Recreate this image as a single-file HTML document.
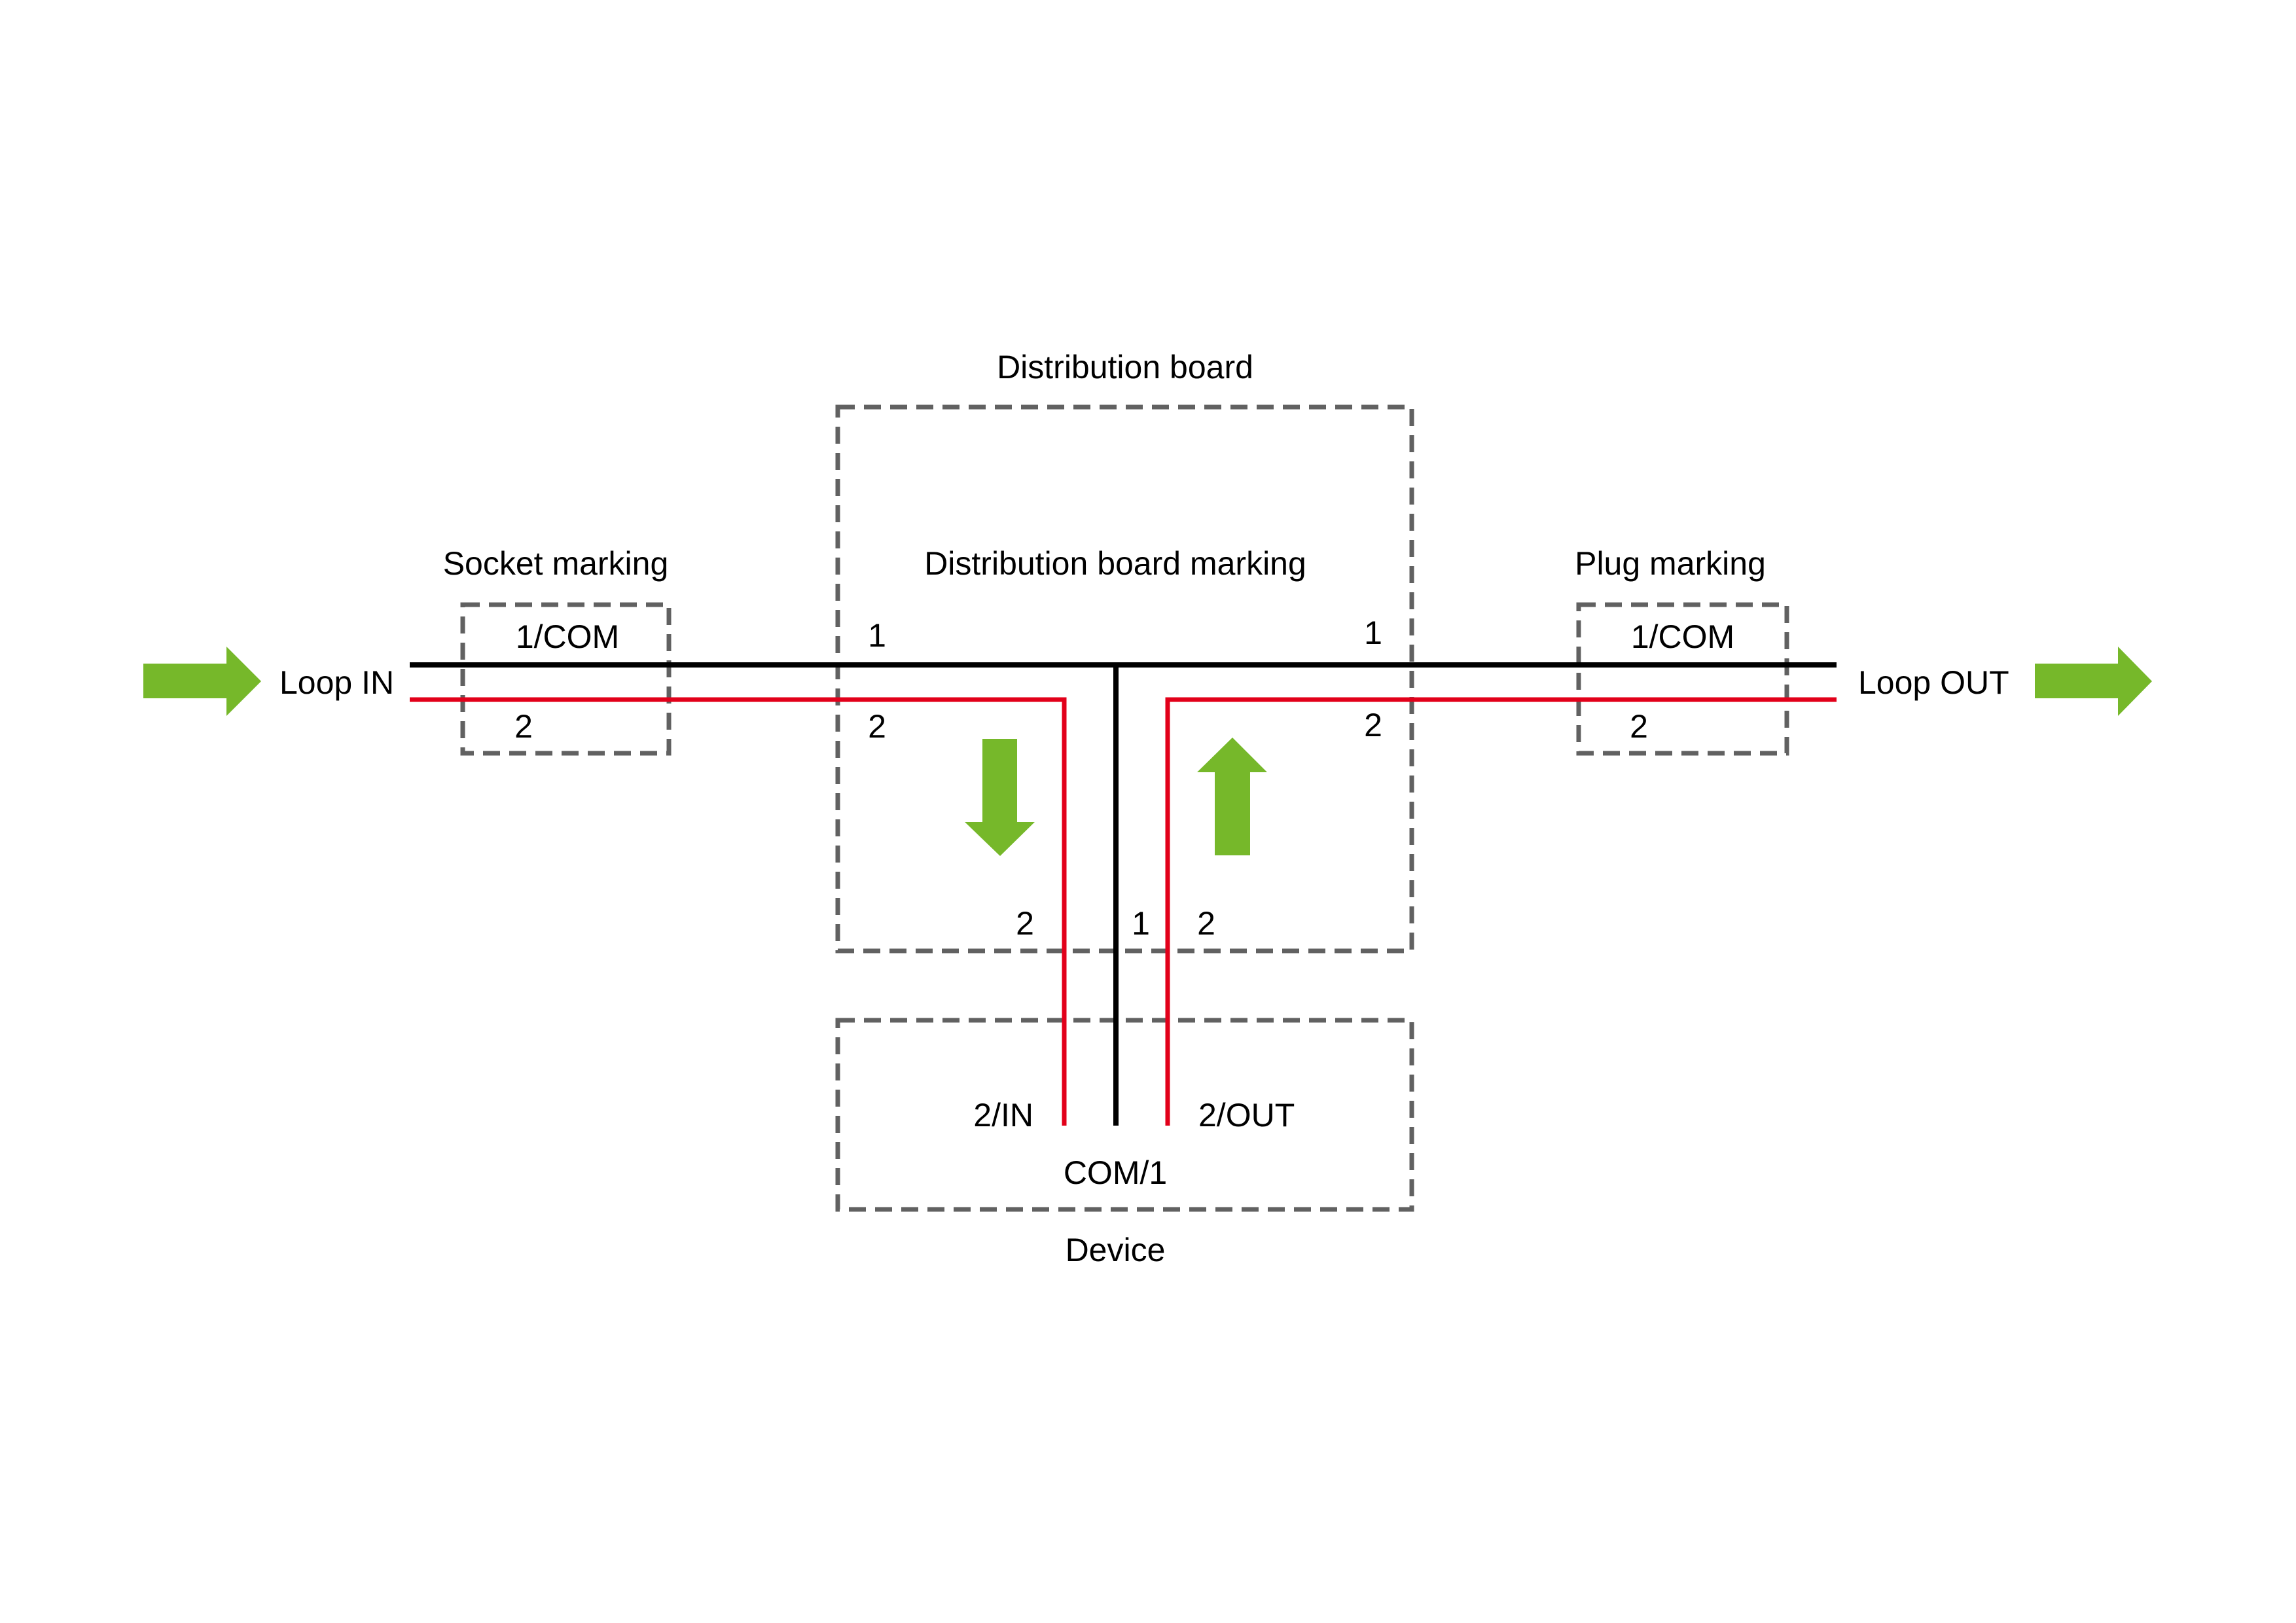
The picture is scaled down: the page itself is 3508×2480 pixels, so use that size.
<!DOCTYPE html>
<html><head><meta charset="utf-8"><style>html,body{margin:0;padding:0;background:#fff}svg{display:block}</style></head>
<body>
<svg width="3508" height="2480" viewBox="0 0 3508 2480" xmlns="http://www.w3.org/2000/svg">
<rect width="3508" height="2480" fill="#fff"/>
<g fill="none" stroke="#616161" stroke-width="7" stroke-dasharray="26 14">
<rect x="1280" y="622" width="877" height="831"/>
<rect x="1280" y="1559" width="877" height="289"/>
<rect x="707" y="924" width="315" height="227"/>
<rect x="2412" y="924" width="318" height="227"/>
</g>
<g fill="none" stroke-linecap="butt">
<path d="M626 1016 H2806" stroke="#000" stroke-width="8"/>
<path d="M1705 1016 V1720" stroke="#000" stroke-width="8"/>
<path d="M626 1069 H1626 V1720" stroke="#e2001a" stroke-width="7"/>
<path d="M2806 1069 H1784 V1720" stroke="#e2001a" stroke-width="7"/>
</g>
<g fill="#76b82a">
<polygon points="219,1014 346,1014 346,988 399,1041 346,1094 346,1067 219,1067"/>
<polygon points="3109,1014 3236,1014 3236,988 3288,1041 3236,1094 3236,1067 3109,1067"/>
<polygon points="1501,1129 1554,1129 1554,1256 1581,1256 1528,1308 1474,1256 1501,1256"/>
<polygon points="1856,1307 1910,1307 1910,1180 1936,1180 1883,1127 1829,1180 1856,1180"/>
</g>
<g font-family="Liberation Sans, sans-serif" font-size="50" fill="#000" text-anchor="middle">
<text x="1719" y="578">Distribution board</text>
<text x="849" y="878">Socket marking</text>
<text x="1704" y="878">Distribution board marking</text>
<text x="2552" y="878">Plug marking</text>
<text x="867" y="990">1/COM</text>
<text x="800" y="1127">2</text>
<text x="2571" y="990">1/COM</text>
<text x="2504" y="1127">2</text>
<text x="1340" y="988">1</text>
<text x="1340" y="1127">2</text>
<text x="2098" y="984">1</text>
<text x="2098" y="1125">2</text>
<text x="1566" y="1428">2</text>
<text x="1743" y="1428">1</text>
<text x="1843" y="1428">2</text>
<text x="1704" y="1809">COM/1</text>
<text x="1704" y="1927">Device</text>
<text x="1579" y="1721" text-anchor="end">2/IN</text>
<text x="1831" y="1721" text-anchor="start">2/OUT</text>
<text x="427" y="1060" text-anchor="start">Loop IN</text>
<text x="2839" y="1060" text-anchor="start">Loop OUT</text>
</g>
</svg>
</body></html>
